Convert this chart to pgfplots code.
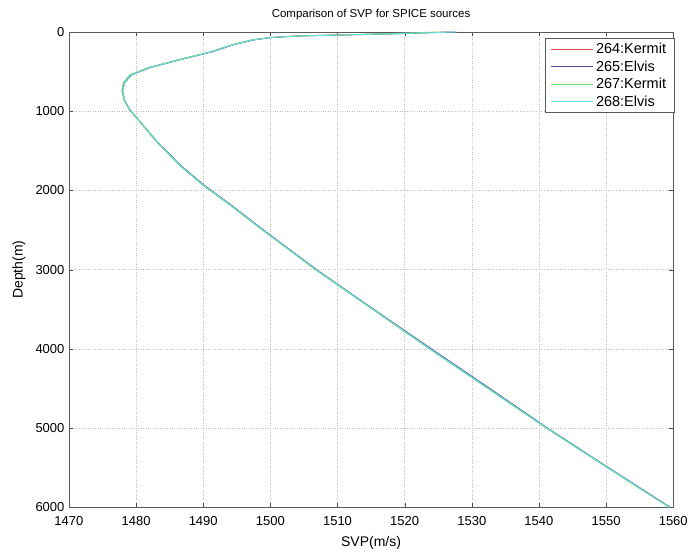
\documentclass[border=0pt]{standalone}
\usepackage{pgfplots}
\pgfplotsset{compat=1.18}
\usetikzlibrary{calc}
\usepackage{fontspec}
\setmainfont{Liberation Sans}
\definecolor{cRed}{rgb}{0.90,0.30,0.30}
\definecolor{cBlue}{rgb}{0.32,0.32,0.62}
\definecolor{cGreen}{rgb}{0.42,0.85,0.42}
\definecolor{cCyan}{rgb}{0.40,0.88,0.88}
\begin{document}
\begin{tikzpicture}
\begin{axis}[
  width=605pt, height=476pt, scale only axis,
  xmin=1470, xmax=1560, ymin=0, ymax=6000, y dir=reverse,
  xtick={1470,1480,...,1560}, ytick={0,1000,...,6000},
  grid=major, major grid style={dotted, gray!50, line width=0.5pt},
  tick align=inside, major tick length=4pt,
  xticklabel pos=left, yticklabel pos=left,
  axis line style={gray!70!black, line width=0.6pt},
  tick style={gray!60!black},
  scaled ticks=false,
  /pgf/number format/.cd, 1000 sep={}, assume math mode=true,
  /pgfplots/.cd,
  tick label style={font=\fontsize{13}{13}\selectfont},
  xticklabel style={yshift=-5pt},
  yticklabel style={xshift=-1pt},
  xlabel={SVP(m/s)}, ylabel={Depth(m)},
  label style={font=\fontsize{14}{14}\selectfont},
  xlabel style={yshift=-4pt},
  ylabel style={yshift=3pt},
  title={Comparison of SVP for SPICE sources},
  title style={font=\fontsize{11.5}{11.5}\selectfont, yshift=3pt},
  legend style={at={(rel axis cs:1,1)}, anchor=north east, xshift=1pt, yshift=-6pt,
    font=\fontsize{14.5}{14.5}\selectfont, draw=gray!70!black, row sep=1.5pt,
    inner xsep=6pt, inner ysep=3pt},
  legend cell align=left,
  legend image code/.code={\draw[#1] (0pt,0pt) -- (42pt,0pt);},
  every axis plot/.append style={line width=0.9pt},
]
\addlegendimage{draw=cRed, line width=1.2pt}
\addlegendentry{264:Kermit}
\addlegendimage{draw=cBlue, line width=1.2pt}
\addlegendentry{265:Elvis}
\addlegendimage{draw=cGreen, line width=1.2pt}
\addlegendentry{267:Kermit}
\addlegendimage{draw=cCyan, line width=1.2pt}
\addlegendentry{268:Elvis}
\addplot[cRed, forget plot] coordinates {
(1526.5,0) (1523,10) (1519,20) (1514,30) (1509,40) (1504,50) (1500,70) (1497.4,100)
(1494.4,160) (1491.2,250) (1486.4,350) (1481.9,450) (1479.2,540) (1478.2,640)
(1477.9,740) (1478.2,860) (1479.0,980) (1480.5,1130) (1483.0,1380) (1486.5,1680)
(1490.0,1930) (1494.0,2180) (1498.9,2500) (1506.8,3000) (1515.3,3500) (1523.8,4000)
(1532.5,4500) (1541.2,5000) (1550.3,5500) (1559.5,6000)};
\addplot[cBlue, forget plot] coordinates {
(1527.5,0) (1524.5,8) (1520.5,18) (1515,30) (1510,40) (1504.6,50) (1500.2,70) (1497.6,100)
(1494.6,160) (1491.4,250) (1486.6,350) (1482.1,450) (1479.4,540) (1478.3,640)
(1478.0,740) (1478.3,860) (1479.1,980) (1480.6,1130) (1483.1,1380) (1486.6,1680)
(1490.1,1930) (1494.1,2180) (1499.0,2500) (1506.9,3000) (1515.4,3500) (1524.0,4000)
(1532.7,4500) (1541.3,5000) (1550.4,5500) (1559.6,6000)};
\addplot[cGreen, forget plot] coordinates {
(1525,0) (1521,12) (1517,22) (1512,32) (1508,42) (1503.5,52) (1499.6,72) (1497.2,100)
(1494.3,160) (1491.1,250) (1486.3,350) (1481.8,450) (1479.1,540) (1478.1,640)
(1477.9,740) (1478.2,860) (1479.0,980) (1480.5,1130) (1483.0,1380) (1486.4,1680)
(1489.9,1930) (1493.9,2180) (1498.8,2500) (1506.7,3000) (1515.2,3500) (1523.7,4000)
(1532.4,4500) (1541.1,5000) (1550.2,5500) (1559.4,6000)};
\addplot[cCyan, forget plot] coordinates {
(1527.8,0) (1524,10) (1520,20) (1515,30) (1510,40) (1504.5,50) (1500,70) (1497.5,100)
(1494.5,160) (1491.3,250) (1486.5,350) (1482.0,450) (1479.3,540) (1478.3,640)
(1478.0,740) (1478.3,860) (1479.1,980) (1480.6,1130) (1483.1,1380) (1486.5,1680)
(1490.0,1930) (1494.0,2180) (1498.9,2500) (1506.8,3000) (1515.3,3500) (1523.8,4000)
(1532.5,4500) (1541.2,5000) (1550.3,5500) (1559.5,6000)};
\end{axis}
\path (current axis.south west) ++(-69pt,-40pt) rectangle ($(current axis.north east)+(17pt,32pt)$);
\end{tikzpicture}
\end{document}
